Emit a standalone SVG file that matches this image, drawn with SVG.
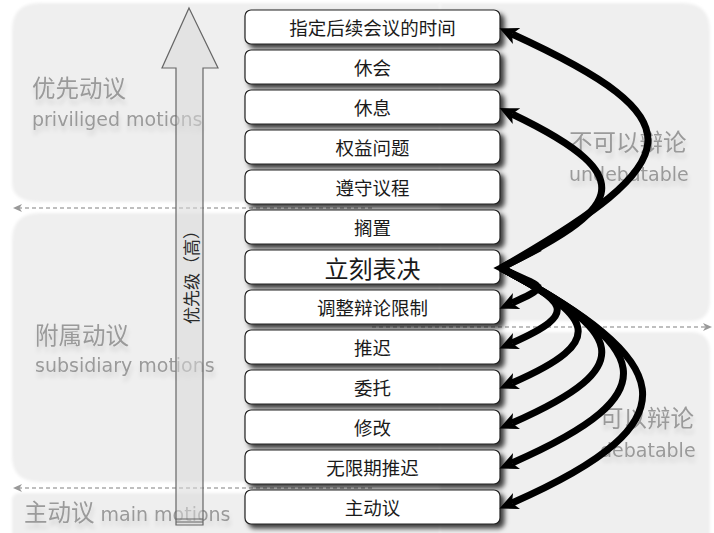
<svg xmlns="http://www.w3.org/2000/svg" width="714" height="533" viewBox="0 0 714 533">
<style>
.panel{fill:#efefef;filter:url(#soft)}
.lab{fill:#9a9a9a;filter:url(#tshadow)}
.cjk{font-family:'Noto Sans CJK SC','Noto Sans CJK JP',sans-serif}
.lat{font-family:'DejaVu Sans',sans-serif;font-size:19px}
.box rect{fill:#fff;stroke:#222;stroke-width:1.2;filter:url(#shadow)}
.box text{font-family:'Noto Sans CJK SC',sans-serif;font-size:18.5px;fill:#1a1a1a;text-anchor:middle;dominant-baseline:central}
.div{stroke:#aaa;stroke-width:1.5;stroke-dasharray:4 3;fill:none;marker-end:url(#garrow)}
.conn path{fill:none;stroke:#000;stroke-width:7;marker-end:url(#barb)}
</style>
<defs>
<filter id="shadow" x="-10%" y="-30%" width="130%" height="180%">
<feDropShadow dx="4" dy="4" stdDeviation="2.5" flood-color="#000" flood-opacity="0.75"/>
</filter>
<filter id="soft"><feGaussianBlur stdDeviation="1.5"/></filter>
<filter id="tshadow" x="-10%" y="-30%" width="120%" height="190%">
<feGaussianBlur in="SourceAlpha" stdDeviation="2" result="b"/>
<feOffset in="b" dx="1" dy="5" result="o"/>
<feFlood flood-color="#000" flood-opacity="0.12"/>
<feComposite in2="o" operator="in" result="s"/>
<feMerge><feMergeNode in="s"/><feMergeNode in="SourceGraphic"/></feMerge>
</filter>
<marker id="barb" markerUnits="userSpaceOnUse" markerWidth="20" markerHeight="20" viewBox="0 -8 16 16" refX="4" refY="0" orient="auto">
<path d="M0,-7 L15,0 L0,7 L4,0 z" fill="#000"/>
</marker>
<marker id="garrow" markerUnits="userSpaceOnUse" markerWidth="10" markerHeight="10" viewBox="0 -5 10 10" refX="6" refY="0" orient="auto">
<path d="M0,-4 L9,0 L0,4 L2.5,0 z" fill="#999"/>
</marker>
</defs>
<rect width="714" height="533" fill="#fff"/>
<g id="panels">
<path class="panel" d="M12,31 Q12,3 40,3 L440,3 L440,202 L40,202 Q12,202 12,182 Z"/>
<path class="panel" d="M12,241 Q12,213 40,213 L440,213 L440,482 L40,482 Q12,482 12,456 Z"/>
<path class="panel" d="M12,501 Q12,493 20,493 L440,493 L440,540 L12,540 Z"/>
<path class="panel" d="M440,3 L682,3 Q710,3 710,31 L710,300 Q710,321 690,321 L440,321 Z"/>
<path class="panel" d="M440,332 L690,332 Q710,332 710,352 L710,540 L440,540 Z"/>
</g>
<g id="dividers">
<line class="div" x1="372" y1="208" x2="16" y2="208"/>
<line class="div" x1="372" y1="488" x2="16" y2="488"/>
<line class="div" x1="372" y1="327" x2="709" y2="327"/>
</g>
<g id="labels">
<text class="lab cjk" x="32" y="97" font-size="23.5">优先动议</text>
<text class="lab lat" x="32" y="126">priviliged motions</text>
<text class="lab cjk" x="35" y="344" font-size="23.5">附属动议</text>
<text class="lab lat" x="35" y="372">subsidiary motions</text>
<text class="lab" x="24" y="521"><tspan class="cjk" font-size="23.5">主动议</tspan><tspan class="lat"> main motions</tspan></text>
<text class="lab cjk" x="569" y="151" font-size="23.5">不可以辩论</text>
<text class="lab lat" x="569" y="181">undebatable</text>
<text class="lab cjk" x="600" y="427" font-size="23.5">可以辩论</text>
<text class="lab lat" x="600" y="457">debatable</text>
</g>
<g id="priority">
<polygon points="189,8 218,68 203,68 203,525 176,525 176,68 162,68" fill="#d8d8d8" fill-opacity="0.55" stroke="#666" stroke-width="1.2"/>
<line x1="176" y1="519" x2="203" y2="519" stroke="#666" stroke-width="1"/>
<line x1="176" y1="522" x2="203" y2="522" stroke="#666" stroke-width="1"/>
<text class="cjk" x="190" y="273" font-size="17" fill="#2a2a2a" text-anchor="middle" dominant-baseline="central" transform="rotate(-90 190 273)">优先级（高）</text>
</g>
<g id="n1" class="box"><rect x="245" y="10" width="255" height="34" rx="6"/><text x="372.5" y="27">指定后续会议的时间</text></g>
<g id="n2" class="box"><rect x="245" y="50" width="255" height="34" rx="6"/><text x="372.5" y="67">休会</text></g>
<g id="n3" class="box"><rect x="245" y="90" width="255" height="34" rx="6"/><text x="372.5" y="107">休息</text></g>
<g id="n4" class="box"><rect x="245" y="130" width="255" height="34" rx="6"/><text x="372.5" y="147">权益问题</text></g>
<g id="n5" class="box"><rect x="245" y="170" width="255" height="34" rx="6"/><text x="372.5" y="187">遵守议程</text></g>
<g id="n6" class="box"><rect x="245" y="210" width="255" height="34" rx="6"/><text x="372.5" y="227">搁置</text></g>
<g id="n7" class="box"><rect x="245" y="250" width="255" height="34" rx="6"/><text x="372.5" y="267" style="font-size:24px">立刻表决</text></g>
<g id="n8" class="box"><rect x="245" y="290" width="255" height="34" rx="6"/><text x="372.5" y="307">调整辩论限制</text></g>
<g id="n9" class="box"><rect x="245" y="330" width="255" height="34" rx="6"/><text x="372.5" y="347">推迟</text></g>
<g id="n10" class="box"><rect x="245" y="370" width="255" height="34" rx="6"/><text x="372.5" y="387">委托</text></g>
<g id="n11" class="box"><rect x="245" y="410" width="255" height="34" rx="6"/><text x="372.5" y="427">修改</text></g>
<g id="n12" class="box"><rect x="245" y="450" width="255" height="34" rx="6"/><text x="372.5" y="467">无限期推迟</text></g>
<g id="n13" class="box"><rect x="245" y="490" width="255" height="34" rx="6"/><text x="372.5" y="507">主动议</text></g>
<g id="connectors" class="conn">
<path d="M501,268 C690,160 700,120 512,34"/>
<path d="M501,268 C615,210 650,180 512,114"/>
<path d="M501,268 C540,288 554,284 512,303"/>
<path d="M501,268 C565,302 582,312 512,343"/>
<path d="M501,268 C592,316 611,340 512,383"/>
<path d="M501,268 C622,332 644,365 512,423"/>
<path d="M501,268 C650,347 674,392 512,463"/>
<path d="M501,268 C674,360 701,420 512,503"/>
<path d="M540,248 L501,268 L540,288" style="marker-end:none;stroke-linejoin:miter"/>
</g>
</svg>
